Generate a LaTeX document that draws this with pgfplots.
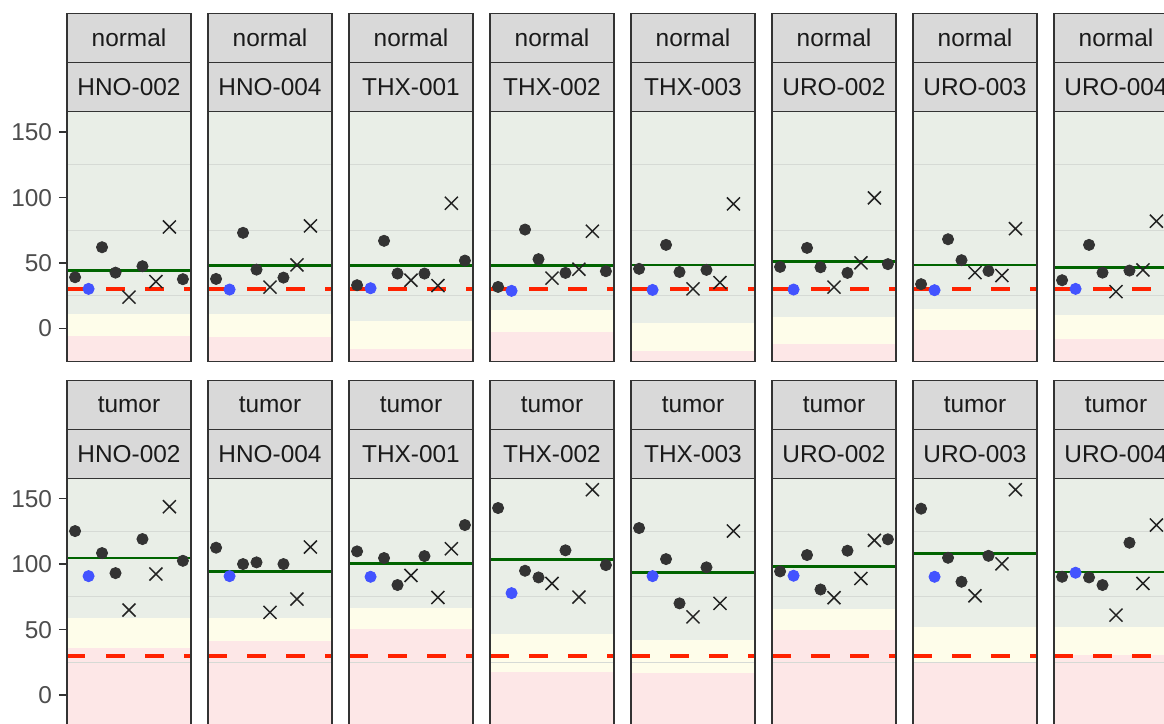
\documentclass[border=0pt]{standalone}
\usepackage{pgfplots}
\pgfplotsset{compat=1.18}
\usepackage{fontspec}
\setmainfont{Liberation Sans}
\definecolor{stripfill}{HTML}{D9D9D9}
\definecolor{bordercol}{HTML}{333333}
\definecolor{greenband}{HTML}{E9EEE7}
\definecolor{yellowband}{HTML}{FEFDEA}
\definecolor{pinkband}{HTML}{FDE7E7}
\definecolor{gridc}{HTML}{D6DAD5}
\definecolor{redc}{HTML}{FF2200}
\definecolor{meanc}{HTML}{006400}
\definecolor{dotc}{HTML}{333333}
\definecolor{bluec}{HTML}{4353FF}
\definecolor{crossc}{HTML}{222222}
\definecolor{tickc}{HTML}{4D4D4D}
\definecolor{stript}{HTML}{1A1A1A}

\pgfplotsset{
 panel/.style={scale only axis, width=62pt, height=125pt, anchor=south west,
  xmin=0.4, xmax=9.6, ymin=-25.3, ymax=165.6, xtick=\empty, ytick=\empty,
  axis on top, axis line style={draw=bordercol, line width=0.75pt}},
 firstcol/.style={ytick={0,50,100,150}, ytick pos=left, tick align=outside,
  major tick length=4pt, tick style={draw=bordercol, line width=0.75pt},
  yticklabel style={font=\fontsize{12.2}{14}\selectfont, text=tickc, inner sep=0pt, xshift=-3.3pt},
  /pgf/number format/assume math mode=true},
 dots/.style={only marks, mark=*, mark size=2.8pt, color=dotc, mark options={draw=none, fill=dotc}},
 crosses/.style={only marks, mark=x, mark size=4.6pt, color=crossc, mark options={line width=0.75pt}},
 bluept/.style={only marks, mark=*, mark size=2.8pt, color=bluec, mark options={draw=none, fill=bluec}}
}

% #1 pink top, #2 yellow top, #3 mean
\newcommand\bands[3]{%
 \addplot[draw=none, fill=pinkband] coordinates {(0.4,-30) (9.6,-30) (9.6,#1) (0.4,#1)} --cycle;
 \addplot[draw=none, fill=yellowband] coordinates {(0.4,#1) (9.6,#1) (9.6,#2) (0.4,#2)} --cycle;
 \addplot[draw=none, fill=greenband] coordinates {(0.4,#2) (9.6,#2) (9.6,170) (0.4,170)} --cycle;
 \addplot[gridc, line width=0.5pt] coordinates {(0.4,25) (9.6,25)};
 \addplot[gridc, line width=0.5pt] coordinates {(0.4,75) (9.6,75)};
 \addplot[gridc, line width=0.5pt] coordinates {(0.4,125) (9.6,125)};
 \addplot[meanc, line width=1.4pt] coordinates {(0.4,#3) (9.6,#3)};
 \addplot[redc, line width=1.8pt, dash pattern=on 9.25pt off 10.25pt] coordinates {(0.4,30) (9.6,30)};
}

% #1 x, #2 y bottom, #3 top text, #4 lower text  (units: px = 0.5pt)
\newcommand\strips[4]{%
 \draw[bordercol, line width=0.75pt, fill=stripfill] (#1*0.5pt,#2*0.5pt) rectangle ++(62pt,24.5pt);
 \draw[bordercol, line width=0.75pt, fill=stripfill] (#1*0.5pt,#2*0.5pt+24.5pt) rectangle ++(62pt,24.5pt);
 \node[font=\fontsize{12.2}{14}\selectfont, text=stript] at (#1*0.5pt+31pt,#2*0.5pt+12.25pt) {#4};
 \node[font=\fontsize{12.2}{14}\selectfont, text=stript] at (#1*0.5pt+31pt,#2*0.5pt+36.75pt) {#3};
}

\begin{document}
\begin{tikzpicture}
\useasboundingbox (0pt,0pt) rectangle (582pt,362pt);
\clip (0pt,0pt) rectangle (582pt,362pt);

% ---------------- top row: normal ----------------
\strips{67}{612.3}{normal}{HNO-002}
\begin{axis}[panel, firstcol, at={(33.5pt,181.15pt)}]
 \bands{-5.6}{11.2}{44.3}
 \addplot[dots] coordinates {(1,39.2) (3,62.1) (4,42.7) (6,47.6) (9,37.7)};
 \addplot[crosses] coordinates {(5,24.0) (7,35.9) (8,77.6)};
 \addplot[bluept] coordinates {(2,30.3)};
\end{axis}

\strips{208}{612.3}{normal}{HNO-004}
\begin{axis}[panel, at={(104pt,181.15pt)}]
 \bands{-6.6}{11.2}{48.1}
 \addplot[dots] coordinates {(1,37.9) (3,73.1) (4,45.0) (6,38.9)};
 \addplot[crosses] coordinates {(5,31.6) (7,48.6) (8,78.4)};
 \addplot[bluept] coordinates {(2,29.8)};
\end{axis}

\strips{349}{612.3}{normal}{THX-001}
\begin{axis}[panel, at={(174.5pt,181.15pt)}]
 \bands{-15.5}{5.9}{48.1}
 \addplot[dots] coordinates {(1,33.1) (3,67.0) (4,42.0) (6,42.0) (9,51.9)};
 \addplot[crosses] coordinates {(5,36.9) (7,32.8) (8,95.7)};
 \addplot[bluept] coordinates {(2,30.8)};
\end{axis}

\strips{490}{612.3}{normal}{THX-002}
\begin{axis}[panel, at={(245pt,181.15pt)}]
 \bands{-2.3}{14.3}{48.4}
 \addplot[dots] coordinates {(1,31.8) (3,75.6) (4,53.0) (6,42.5) (9,43.8)};
 \addplot[crosses] coordinates {(5,38.5) (7,45.3) (8,74.3)};
 \addplot[bluept] coordinates {(2,28.8)};
\end{axis}

\strips{631}{612.3}{normal}{THX-003}
\begin{axis}[panel, at={(315.5pt,181.15pt)}]
 \bands{-16.8}{4.6}{48.6}
 \addplot[dots] coordinates {(1,45.6) (3,63.9) (4,43.2) (6,44.8)};
 \addplot[crosses] coordinates {(5,30.3) (7,35.1) (8,95.2)};
 \addplot[bluept] coordinates {(2,29.5)};
\end{axis}

\strips{772}{612.3}{normal}{URO-002}
\begin{axis}[panel, at={(386pt,181.15pt)}]
 \bands{-11.5}{9.2}{51.1}
 \addplot[dots] coordinates {(1,47.1) (3,61.6) (4,46.8) (6,42.5) (9,49.2)};
 \addplot[crosses] coordinates {(5,31.6) (7,50.2) (8,99.8)};
 \addplot[bluept] coordinates {(2,29.8)};
\end{axis}

\strips{913}{612.3}{normal}{URO-003}
\begin{axis}[panel, at={(456.5pt,181.15pt)}]
 \bands{-1.0}{15.3}{48.6}
 \addplot[dots] coordinates {(1,33.9) (3,68.2) (4,52.2) (6,44.0)};
 \addplot[crosses] coordinates {(5,42.7) (7,40.5) (8,76.3)};
 \addplot[bluept] coordinates {(2,29.3)};
\end{axis}

\strips{1054}{612.3}{normal}{URO-004}
\begin{axis}[panel, at={(527pt,181.15pt)}]
 \bands{-7.6}{10.5}{46.9}
 \addplot[dots] coordinates {(1,36.9) (3,63.9) (4,42.7) (6,44.3)};
 \addplot[crosses] coordinates {(5,28.2) (7,44.8) (8,82.0)};
 \addplot[bluept] coordinates {(2,30.3)};
\end{axis}

% ---------------- bottom row: tumor ----------------
\strips{67}{245.7}{tumor}{HNO-002}
\begin{axis}[panel, firstcol, at={(33.5pt,-2.15pt)}]
 \bands{35.9}{58.8}{104.7}
 \addplot[dots] coordinates {(1,125.3) (3,108.5) (4,93.2) (6,119.2) (9,102.6)};
 \addplot[crosses] coordinates {(5,65.0) (7,92.5) (8,143.9)};
 \addplot[bluept] coordinates {(2,90.9)};
\end{axis}

\strips{208}{245.7}{tumor}{HNO-004}
\begin{axis}[panel, at={(104pt,-2.15pt)}]
 \bands{41.0}{58.8}{94.5}
 \addplot[dots] coordinates {(1,112.6) (3,100.1) (4,101.4) (6,100.1)};
 \addplot[crosses] coordinates {(5,63.2) (7,73.4) (8,113.1)};
 \addplot[bluept] coordinates {(2,90.9)};
\end{axis}

\strips{349}{245.7}{tumor}{THX-001}
\begin{axis}[panel, at={(174.5pt,-2.15pt)}]
 \bands{50.2}{66.7}{100.6}
 \addplot[dots] coordinates {(1,109.8) (3,104.7) (4,84.1) (6,106.2) (9,129.9)};
 \addplot[crosses] coordinates {(5,91.4) (7,74.6) (8,111.8)};
 \addplot[bluept] coordinates {(2,90.4)};
\end{axis}

\strips{490}{245.7}{tumor}{THX-002}
\begin{axis}[panel, at={(245pt,-2.15pt)}]
 \bands{17.8}{46.4}{103.9}
 \addplot[dots] coordinates {(1,142.9) (3,95.0) (4,89.9) (6,110.6) (9,99.3)};
 \addplot[crosses] coordinates {(5,85.3) (7,74.9) (8,156.9)};
 \addplot[bluept] coordinates {(2,77.9)};
\end{axis}

\strips{631}{245.7}{tumor}{THX-003}
\begin{axis}[panel, at={(315.5pt,-2.15pt)}]
 \bands{17.0}{42.0}{93.5}
 \addplot[dots] coordinates {(1,127.6) (3,103.9) (4,70.1) (6,97.6)};
 \addplot[crosses] coordinates {(5,59.8) (7,70.1) (8,125.3)};
 \addplot[bluept] coordinates {(2,90.9)};
\end{axis}

\strips{772}{245.7}{tumor}{URO-002}
\begin{axis}[panel, at={(386pt,-2.15pt)}]
 \bands{49.7}{65.7}{98.3}
 \addplot[dots] coordinates {(1,94.5) (3,107.0) (4,80.7) (6,110.3) (9,119.0)};
 \addplot[crosses] coordinates {(5,74.4) (7,89.1) (8,118.2)};
 \addplot[bluept] coordinates {(2,91.2)};
\end{axis}

\strips{913}{245.7}{tumor}{URO-003}
\begin{axis}[panel, at={(456.5pt,-2.15pt)}]
 \bands{24.7}{52.0}{108.3}
 \addplot[dots] coordinates {(1,142.4) (3,104.9) (4,86.6) (6,106.4)};
 \addplot[crosses] coordinates {(5,75.9) (7,100.3) (8,156.9)};
 \addplot[bluept] coordinates {(2,90.4)};
\end{axis}

\strips{1054}{245.7}{tumor}{URO-004}
\begin{axis}[panel, at={(527pt,-2.15pt)}]
 \bands{30.5}{52.0}{94.0}
 \addplot[dots] coordinates {(1,90.4) (3,89.9) (4,84.1) (6,116.4)};
 \addplot[crosses] coordinates {(5,61.1) (7,85.3) (8,129.9)};
 \addplot[bluept] coordinates {(2,93.5)};
\end{axis}
\end{tikzpicture}
\end{document}
